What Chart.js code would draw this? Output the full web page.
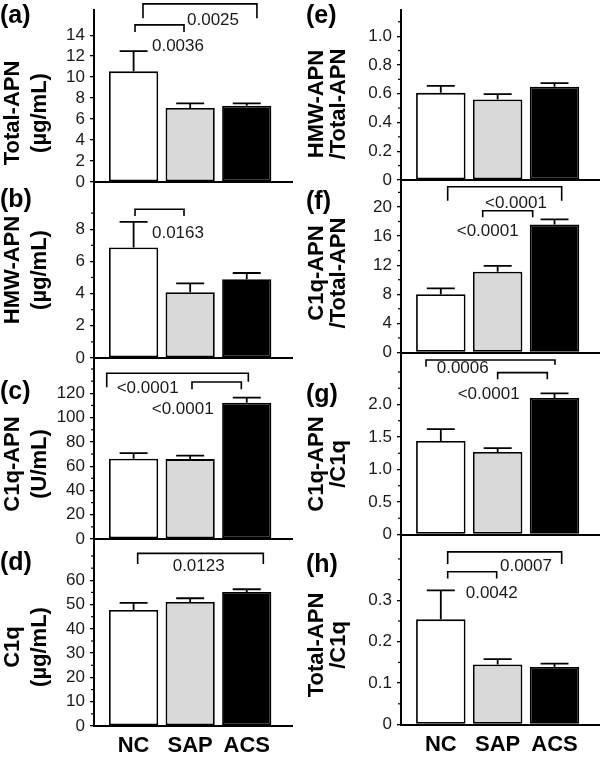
<!DOCTYPE html>
<html>
<head>
<meta charset="utf-8">
<script src="https://cdn.jsdelivr.net/npm/chart.js@4.4.0/dist/chart.umd.min.js"></script>
<style>
html,body{margin:0;padding:0;background:#fff;}
#wrap{position:relative;width:600px;height:759px;overflow:hidden;background:#fff;}
#wrap canvas{position:absolute;left:0;top:0;}
</style>
</head>
<body>
<div id="wrap"></div>
<script>
// ---------- data ----------
const groups = ['NC', 'SAP', 'ACS'];
const barColors = ['#ffffff', '#d9d9d9', '#000000'];

// (a) Total-APN (µg/mL)
const totalApnMean = [10.55, 7.05, 7.27];
const totalApnErr  = [12.47, 7.50, 7.50];
const ticksA = [0, 2, 4, 6, 8, 10, 12, 14];
const labelsA = ['0', '2', '4', '6', '8', '10', '12', '14'];

// (b) HMW-APN (µg/mL)
const hmwApnMean = [6.86, 4.08, 4.89];
const hmwApnErr  = [8.45, 4.64, 5.28];
const ticksB = [0, 2, 4, 6, 8];
const labelsB = ['0', '2', '4', '6', '8'];
const minorB = [1, 3, 5, 7, 9];

// (c) C1q-APN (U/mL)
const c1qApnMean = [66.1, 65.8, 112.3];
const c1qApnErr  = [70.8, 68.6, 116.4];
const ticksC = [0, 20, 40, 60, 80, 100, 120];
const labelsC = ['0', '20', '40', '60', '80', '100', '120'];
const minorC = [10, 30, 50, 70, 90, 110, 130, 140];

// (d) C1q (µg/mL)
const c1qMean = [47.8, 51.1, 55.2];
const c1qErr  = [50.7, 52.6, 56.3];
const ticksD = [0, 10, 20, 30, 40, 50, 60];
const labelsD = ['0', '10', '20', '30', '40', '50', '60'];
const minorD = [5, 15, 25, 35, 45, 55, 65, 70];

// (e) HMW-APN / Total-APN
const hmwRatioMean = [0.606, 0.560, 0.648];
const hmwRatioErr  = [0.655, 0.597, 0.673];
const ticksE = [0, 0.2, 0.4, 0.6, 0.8, 1.0];
const labelsE = ['0', '0.2', '0.4', '0.6', '0.8', '1.0'];
const minorE = [0.1, 0.3, 0.5, 0.7, 0.9, 1.1];

// (f) C1q-APN / Total-APN
const c1qTotalMean = [8.0, 11.1, 17.6];
const c1qTotalErr  = [8.8, 11.9, 18.3];
const ticksF = [0, 4, 8, 12, 16, 20];
const labelsF = ['0', '4', '8', '12', '16', '20'];
const minorF = [2, 6, 10, 14, 18, 22];

// (g) C1q-APN / C1q
const c1qApnC1qMean = [1.44, 1.27, 2.10];
const c1qApnC1qErr  = [1.62, 1.33, 2.17];
const ticksG = [0, 0.5, 1.0, 1.5, 2.0];
const labelsG = ['0', '0.5', '1.0', '1.5', '2.0'];
const minorG = [0.25, 0.75, 1.25, 1.75, 2.25, 2.5];

// (h) Total-APN / C1q
const totalC1qMean = [0.254, 0.145, 0.139];
const totalC1qErr  = [0.324, 0.158, 0.147];
const ticksH = [0, 0.1, 0.2, 0.3];
const labelsH = ['0', '0.1', '0.2', '0.3'];
const minorH = [0.05, 0.15, 0.25, 0.35, 0.4];

// significance brackets (x in group units, y in axis units)
const bracketsA = [
  {x1: 0.166, x2: 2.18, top: 16.98, leg1: 15.62, leg2: 15.62, label: '0.0025', lx: 0.944, ly: 15.39},
  {x1: 0.025, x2: 0.891, top: 14.98, leg1: 14.31, leg2: 14.31, label: '0.0036', lx: 0.325, ly: 12.91}
];
const bracketsB = [
  {x1: 0.025, x2: 0.891, top: 9.24, leg1: 8.82, leg2: 8.82, label: '0.0163', lx: 0.325, ly: 7.76}
];
const bracketsC = [
  {x1: -0.475, x2: 2.028, top: 136.5, leg1: 125.0, leg2: 129.6, label: '<0.0001', lx: -0.299, ly: 124.1},
  {x1: 1.032, x2: 1.904, top: 129.3, leg1: 123.3, leg2: 123.3, label: '<0.0001', lx: 0.32, ly: 106.8}
];
const bracketsD = [
  {x1: 0.072, x2: 2.293, top: 71.1, leg1: 66.7, leg2: 66.7, label: '0.0123', lx: 0.691, ly: 65.9}
];
const bracketsE = [];
const bracketsF = [
  {x1: 0.121, x2: 2.126, top: 22.78, leg1: 20.85, leg2: 20.85, label: '<0.0001', lx: 0.777, ly: 20.5},
  {x1: 0.737, x2: 1.616, top: 19.48, leg1: 18.57, leg2: 18.57, label: '<0.0001', lx: 0.28, ly: 16.59}
];
const bracketsG = [
  {x1: -0.26, x2: 2.008, top: 2.685, leg1: 2.58, leg2: 2.61, label: '0.0006', lx: -0.072, ly: 2.557},
  {x1: 1.0, x2: 1.873, top: 2.49, leg1: 2.39, leg2: 2.39, label: '<0.0001', lx: 0.297, ly: 2.157}
];
const bracketsH = [
  {x1: 0.121, x2: 2.126, top: 0.417, leg1: 0.388, leg2: 0.388, label: '0.0007', lx: 1.041, ly: 0.383},
  {x1: 0.121, x2: 0.983, top: 0.369, leg1: 0.353, leg2: 0.353, label: '0.0042', lx: 0.438, ly: 0.317}
];

// ---------- layout ----------
const FONT = "'Liberation Sans', Arial, Helvetica, sans-serif";
const cols = [
  {axisX: 94, rightX: 292, letterX: 0, t1X: 13, t2X: 40},
  {axisX: 401, rightX: 600, letterX: 306, t1X: 317, t2X: 339}
];
const panels = [
  {letter: '(a)', col: 0, top: 10, zero: 182, yMax: 16.4, ticks: ticksA, labels: labelsA, minor: [], mean: totalApnMean, err: totalApnErr, title: ['Total-APN', '(µg/mL)'], titleY: 113, letterY: 16, brackets: bracketsA, showX: false},
  {letter: '(b)', col: 0, top: 182, zero: 358, yMax: 10.93, ticks: ticksB, labels: labelsB, minor: minorB, mean: hmwApnMean, err: hmwApnErr, title: ['HMW-APN', '(µg/mL)'], titleY: 270, letterY: 200, brackets: bracketsB, showX: false},
  {letter: '(c)', col: 0, top: 358, zero: 539, yMax: 149.1, ticks: ticksC, labels: labelsC, minor: minorC, mean: c1qApnMean, err: c1qApnErr, title: ['C1q-APN', '(U/mL)'], titleY: 464, letterY: 392, brackets: bracketsC, showX: false},
  {letter: '(d)', col: 0, top: 539, zero: 726, yMax: 77.0, ticks: ticksD, labels: labelsD, minor: minorD, mean: c1qMean, err: c1qErr, title: ['C1q', '(µg/mL)'], titleY: 647, letterY: 563, brackets: bracketsD, showX: true},
  {letter: '(e)', col: 1, top: 10, zero: 180, yMax: 1.182, ticks: ticksE, labels: labelsE, minor: minorE, mean: hmwRatioMean, err: hmwRatioErr, title: ['HMW-APN', '/Total-APN'], titleY: 104, letterY: 16, brackets: bracketsE, showX: false},
  {letter: '(f)', col: 1, top: 180, zero: 352.5, yMax: 23.7, ticks: ticksF, labels: labelsF, minor: minorF, mean: c1qTotalMean, err: c1qTotalErr, title: ['C1q-APN', '/Total-APN'], titleY: 273, letterY: 202, brackets: bracketsF, showX: false},
  {letter: '(g)', col: 1, top: 352.5, zero: 534.5, yMax: 2.8, ticks: ticksG, labels: labelsG, minor: minorG, mean: c1qApnC1qMean, err: c1qApnC1qErr, title: ['C1q-APN', '/C1q'], titleY: 464, letterY: 395, brackets: bracketsG, showX: false},
  {letter: '(h)', col: 1, top: 534.5, zero: 724.5, yMax: 0.459, ticks: ticksH, labels: labelsH, minor: minorH, mean: totalC1qMean, err: totalC1qErr, title: ['Total-APN', '/C1q'], titleY: 645, letterY: 565, brackets: bracketsH, showX: true}
];

const Y_W = 60;
const X_H = 40;

function decorPlugin(p) {
  const col = cols[p.col];
  return {
    id: 'decor',
    afterDatasetsDraw(chart) {
      const ctx = chart.ctx, xs = chart.scales.x, ys = chart.scales.y;
      ctx.save();
      ctx.strokeStyle = '#000';
      ctx.lineWidth = 1.8;
      // error bars (upper only)
      p.mean.forEach((m, i) => {
        const x = xs.getPixelForValue(i);
        const yb = ys.getPixelForValue(m);
        const yt = ys.getPixelForValue(p.err[i]);
        ctx.beginPath();
        ctx.moveTo(x, yb); ctx.lineTo(x, yt);
        ctx.moveTo(x - 14, yt); ctx.lineTo(x + 14, yt);
        ctx.stroke();
      });
      ctx.restore();
    },
    afterDraw(chart) {
      const ctx = chart.ctx, xs = chart.scales.x, ys = chart.scales.y;
      ctx.save();
      // minor ticks
      ctx.strokeStyle = '#000';
      ctx.lineWidth = 1.2;
      p.minor.forEach(v => {
        const y = ys.getPixelForValue(v);
        ctx.beginPath(); ctx.moveTo(xs.left - 3, y); ctx.lineTo(xs.left, y); ctx.stroke();
      });
      // brackets
      ctx.lineWidth = 1.6;
      ctx.fillStyle = '#1a1a1a';
      ctx.font = '17px ' + FONT;
      ctx.textAlign = 'left';
      ctx.textBaseline = 'middle';
      p.brackets.forEach(b => {
        const x1 = xs.getPixelForValue(b.x1), x2 = xs.getPixelForValue(b.x2);
        const yt = ys.getPixelForValue(b.top);
        ctx.beginPath();
        ctx.moveTo(x1, ys.getPixelForValue(b.leg1));
        ctx.lineTo(x1, yt); ctx.lineTo(x2, yt);
        ctx.lineTo(x2, ys.getPixelForValue(b.leg2));
        ctx.stroke();
        ctx.fillText(b.label, xs.getPixelForValue(b.lx), ys.getPixelForValue(b.ly));
      });
      // axis title (two rotated lines)
      ctx.fillStyle = '#000';
      ctx.font = 'bold 22px ' + FONT;
      ctx.textAlign = 'center';
      [[p.title[0], col.t1X], [p.title[1], col.t2X]].forEach(([t, x]) => {
        ctx.save();
        ctx.translate(x, p.titleY);
        ctx.rotate(-Math.PI / 2);
        ctx.fillText(t, 0, 0);
        ctx.restore();
      });
      // panel letter
      ctx.font = 'bold 25px ' + FONT;
      ctx.textAlign = 'left';
      ctx.fillText(p.letter, col.letterX, p.letterY);
      ctx.restore();
    }
  };
}

const wrap = document.getElementById('wrap');
panels.forEach(p => {
  const col = cols[p.col];
  const cv = document.createElement('canvas');
  cv.width = 600; cv.height = 759;
  cv.style.width = '600px'; cv.style.height = '759px';
  wrap.appendChild(cv);
  const xH = p.showX ? X_H : 0;
  new Chart(cv.getContext('2d'), {
    type: 'bar',
    data: {
      datasets: [{
        data: p.mean.map((v, i) => ({x: i, y: v})),
        backgroundColor: barColors,
        borderColor: '#000',
        borderWidth: 1.8,
        borderSkipped: false,
        barPercentage: 0.87,
        categoryPercentage: 1.0
      }]
    },
    options: {
      responsive: false,
      animation: false,
      devicePixelRatio: 1,
      events: [],
      layout: {
        padding: {
          left: col.axisX - Y_W,
          right: 600 - col.rightX,
          top: p.top,
          bottom: 759 - p.zero - xH
        }
      },
      plugins: {legend: {display: false}, tooltip: {enabled: false}, title: {display: false}},
      scales: {
        x: {
          type: 'linear',
          min: -0.7,
          max: 2.8,
          offset: false,
          afterBuildTicks: s => { s.ticks = groups.map((g, i) => ({value: i})); },
          afterFit: s => { s.height = xH; s.paddingLeft = 0; s.paddingRight = 0; },
          grid: {display: false, drawTicks: false, offset: false},
          border: {display: true, color: '#000', width: 2},
          ticks: {
            display: p.showX,
            padding: 7,
            color: '#000',
            font: {family: FONT, size: 22, weight: 'bold'},
            maxRotation: 0,
            autoSkip: false,
            callback: (v, i) => groups[i]
          }
        },
        y: {
          type: 'linear',
          min: 0,
          max: p.yMax,
          afterBuildTicks: s => { s.ticks = p.ticks.map(v => ({value: v})); },
          afterFit: s => { s.width = Y_W; s.paddingTop = 0; s.paddingBottom = 0; },
          grid: {display: true, drawOnChartArea: false, drawTicks: true, tickLength: 4, color: '#000', lineWidth: 1.3},
          border: {display: true, color: '#000', width: 2},
          ticks: {
            padding: 5,
            color: '#1a1a1a',
            font: {family: FONT, size: 17},
            autoSkip: false,
            callback: (v, i) => p.labels[i]
          }
        }
      }
    },
    plugins: [decorPlugin(p)]
  });
});
</script>
</body>
</html>
